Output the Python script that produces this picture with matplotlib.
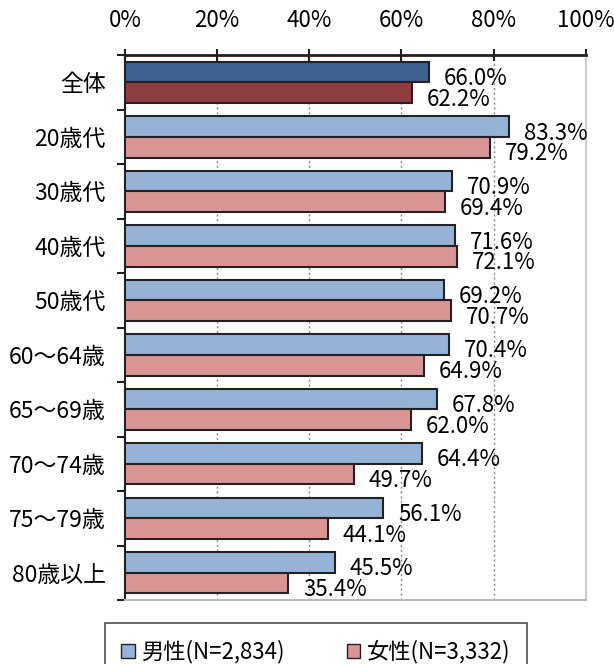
import matplotlib
matplotlib.use("Agg")
import matplotlib.pyplot as plt
import numpy as np
from matplotlib.patches import Patch

plt.rcParams['font.family'] = ['Liberation Sans Narrow', 'Noto Sans CJK JP', 'DejaVu Sans']

categories = ["全体", "20歳代", "30歳代", "40歳代", "50歳代", "60～64歳", "65～69歳", "70～74歳", "75～79歳", "80歳以上"]
male = [66.0, 83.3, 70.9, 71.6, 69.2, 70.4, 67.8, 64.4, 56.1, 45.5]
female = [62.2, 79.2, 69.4, 72.1, 70.7, 64.9, 62.0, 49.7, 44.1, 35.4]
xticks = [0, 20, 40, 60, 80, 100]
legend_labels = ["男性(N=2,834)", "女性(N=3,332)"]

male_colors = ["#3d6190"] + ["#95b3d7"] * 9
female_colors = ["#8e3e3f"] + ["#d99594"] * 9

fig = plt.figure(figsize=(6.14, 6.64), dpi=100)
ax = fig.add_axes([0.2036, 0.0964, 0.7504, 0.8206])

n = len(categories)
y = np.arange(n)
h = 0.38
ax.barh(y - h / 2, male, height=h, color=male_colors, edgecolor="#222222", linewidth=1.5, zorder=3)
ax.barh(y + h / 2, female, height=h, color=female_colors, edgecolor="#222222", linewidth=1.5, zorder=3)

for i in range(n):
    ax.text(male[i] + 3.2, y[i] - h / 2 + 0.12, f"{male[i]:.1f}%", va="center", ha="left", fontsize=16, zorder=4)
    ax.text(female[i] + 3.2, y[i] + h / 2 + 0.12, f"{female[i]:.1f}%", va="center", ha="left", fontsize=16, zorder=4)

ax.set_xlim(0, 100)
ax.set_ylim(n - 0.5, -0.5)
ax.xaxis.tick_top()
ax.set_xticks(xticks)
ax.set_xticklabels([f"{t}%" for t in xticks], fontsize=16)
ax.tick_params(axis="x", direction="inout", length=9, width=1.5, pad=12, top=True, bottom=False, color="#222222")
ax.set_yticks(y)
ax.set_yticklabels(categories, fontsize=16.5)
ax.set_yticks(np.arange(n + 1) - 0.5, minor=True)
ax.tick_params(axis="y", which="major", length=0, pad=14)
ax.tick_params(axis="y", which="minor", length=6, width=1.5, direction="out", color="#222222")

for t in xticks[1:]:
    ax.axvline(t, color="#888888", linestyle=(0, (1.5, 2)), linewidth=1, zorder=1)

ax.spines["top"].set_linewidth(2)
ax.spines["top"].set_color("#222222")
ax.spines["left"].set_linewidth(1.5)
ax.spines["left"].set_color("#222222")
ax.spines["bottom"].set_color("#bbbbbb")
ax.spines["bottom"].set_linewidth(1.5)
ax.spines["right"].set_color("#cccccc")
ax.spines["right"].set_linewidth(1.5)

handles = [Patch(facecolor="#95b3d7", edgecolor="#222222"), Patch(facecolor="#d99594", edgecolor="#222222")]
leg = fig.legend(handles, legend_labels, loc="center", bbox_to_anchor=(316 / 614, 1 - 652 / 664), ncol=2,
                 fontsize=16, frameon=True, fancybox=False, edgecolor="#222222",
                 handlelength=0.6, handleheight=0.6, handletextpad=0.3, columnspacing=2.8, borderpad=0.75,
                 borderaxespad=0)
leg.get_frame().set_linewidth(1.2)

fig.savefig("out.png", dpi=100)
